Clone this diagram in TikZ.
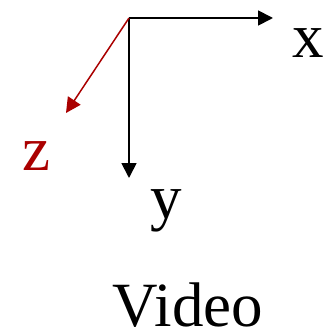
\documentclass[tikz,border=0pt]{standalone}
\usepackage{fontspec}
\setmainfont{Liberation Serif}
\usepackage{tikz}
\usetikzlibrary{arrows}
\usetikzlibrary{arrows.meta}
\tikzset{>={Triangle[width=15pt,length=15pt]}}
\definecolor{zred}{RGB}{170,0,0}

\begin{document}
\begin{tikzpicture}[x=1pt,y=-1pt]
  % Define variables
  \pgfmathsetmacro{\ox}{129}  % origin x
  \pgfmathsetmacro{\oy}{18}   % origin y
  \tikzset{lbl/.style={anchor=base,inner sep=0pt,font=\fontsize{63}{70}\selectfont}}
  \useasboundingbox (0,0) rectangle (332,334);

  % Axes
  \coordinate (o) at (\ox,\oy);
  \coordinate (xend) at (273,\oy);
  \coordinate (yend) at (\ox,178);
  \coordinate (zend) at (66,113);
  \draw[->, line width=1.8pt] (o) -- (xend);
  \draw[->, line width=1.8pt] (o) -- (yend);
  \draw[->, line width=1.5pt, zred] (o) -- (zend);

  % Labels
  \node[lbl] (xlab) at (308,58) {x};
  \node[lbl] (ylab) at (166,218) {y};
  \node[lbl, zred] (zlab) at (36,170) {z};
  \node[lbl] (title) at (188,326) {Video};
\end{tikzpicture}
\end{document}
